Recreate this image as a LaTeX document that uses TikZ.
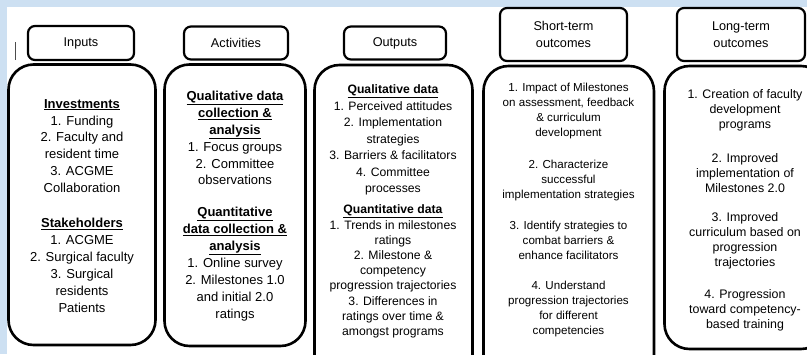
\documentclass[tikz,border=0pt]{standalone}
\usepackage{fontspec}
\setmainfont{Liberation Sans}
\usepackage{tikz}
\newcommand{\rg}{25pt}
\newcommand{\rp}{7pt}
\definecolor{bleufond}{RGB}{205,224,242}
\tikzstyle{entete}=[draw,line width=2.2pt,rounded corners=\rp,align=center,inner sep=0,font=\fontsize{12.7}{17}\selectfont]
\tikzstyle{cadre}=[line width=2.6pt,rounded corners=\rg]
\tikzstyle{texte}=[align=center,inner sep=0]
\tikzstyle{grand}=[texte,font=\fontsize{13}{16.9}\selectfont]
\tikzstyle{moyen}=[texte,font=\fontsize{12.2}{16.5}\selectfont]
\tikzstyle{petit}=[texte,font=\fontsize{11.6}{15}\selectfont]
\newcommand{\titre}[1]{\underline{\textbf{#1}}}

\begin{document}
\begin{tikzpicture}[x=1pt,y=-1pt]
\useasboundingbox (0,0) rectangle (807,354);
\clip (0,0) rectangle (807,354);
\fill[bleufond] (0,0) rectangle (807,354);
\fill[white] (7,7) rectangle (807,354);
\draw[line width=1pt,black!70] (15.5,42) -- (15.5,60);

%entetes
\node[entete,minimum width=106,minimum height=34] (hinputs) at (81,43) {Inputs};
\node[entete,minimum width=104,minimum height=33] (hactiv) at (236,43) {Activities};
\node[entete,minimum width=102,minimum height=33] (houtputs) at (395,43) {Outputs};
\node[entete,minimum width=127,minimum height=53] (hcourt) at (563.5,34.5) {Short-term\\outcomes};
\node[entete,minimum width=128,minimum height=53] (hlong) at (741,34.5) {Long-term\\outcomes};

%cadres
\draw[cadre] (8.5,64.5) rectangle (155.5,345);
\draw[cadre] (164.5,64.5) rectangle (305.5,346);
\draw[cadre] (314.5,65) rectangle (472.5,385);
\draw[cadre] (483.5,66) rectangle (654,385);
\draw[cadre] (664.5,66) rectangle (826,349);

%inputs
\node[grand] (invest) at (82,146) {\titre{Investments}\\1. Funding\\2. Faculty and\\resident time\\3. ACGME\\Collaboration};
\node[grand] (stake) at (82,265.5) {\titre{Stakeholders}\\1. ACGME\\2. Surgical faculty\\3. Surgical\\residents\\Patients};

%activities
\node[grand] (quali) at (235,138) {\titre{Qualitative data}\\\titre{collection \&}\\\titre{analysis}\\1. Focus groups\\2. Committee\\observations};
\node[grand] (quanti) at (235,264) {\titre{Quantitative}\\\titre{data collection \&}\\\titre{analysis}\\1. Online survey\\2. Milestones 1.0\\and initial 2.0\\ratings};

%outputs
\node[moyen] (oquali) at (393,140) {\titre{Qualitative data}\\1. Perceived attitudes\\2. Implementation\\strategies\\3. Barriers \& facilitators\\4. Committee\\processes};
\node[moyen,font=\fontsize{12.2}{15.2}\selectfont] (oquanti) at (393,271.5) {\titre{Quantitative data}\\1. Trends in milestones\\ratings\\2. Milestone \&\\competency\\progression trajectories\\3. Differences in\\ratings over time \&\\amongst programs};

%outcomes
\foreach \y/\n/\t in {110.5/1/{1. Impact of Milestones\\on assessment, feedback\\\& curriculum\\development},
  180/2/{2. Characterize\\successful\\implementation strategies},
  240/3/{3. Identify strategies to\\combat barriers \&\\enhance facilitators},
  308.5/4/{4. Understand\\progression trajectories\\for different\\competencies}}
\node[petit] (court\n) at (568.5,\y) {\t};

\foreach \y/\n/\t in {110/1/{1. Creation of faculty\\development\\programs},
  173/2/{2. Improved\\implementation of\\Milestones 2.0},
  240.5/3/{3. Improved\\curriculum based on\\progression\\trajectories},
  310/4/{4. Progression\\toward competency-\\based training}}
\node[petit,font=\fontsize{12.4}{15}\selectfont] (long\n) at (745,\y) {\t};
\end{tikzpicture}
\end{document}
